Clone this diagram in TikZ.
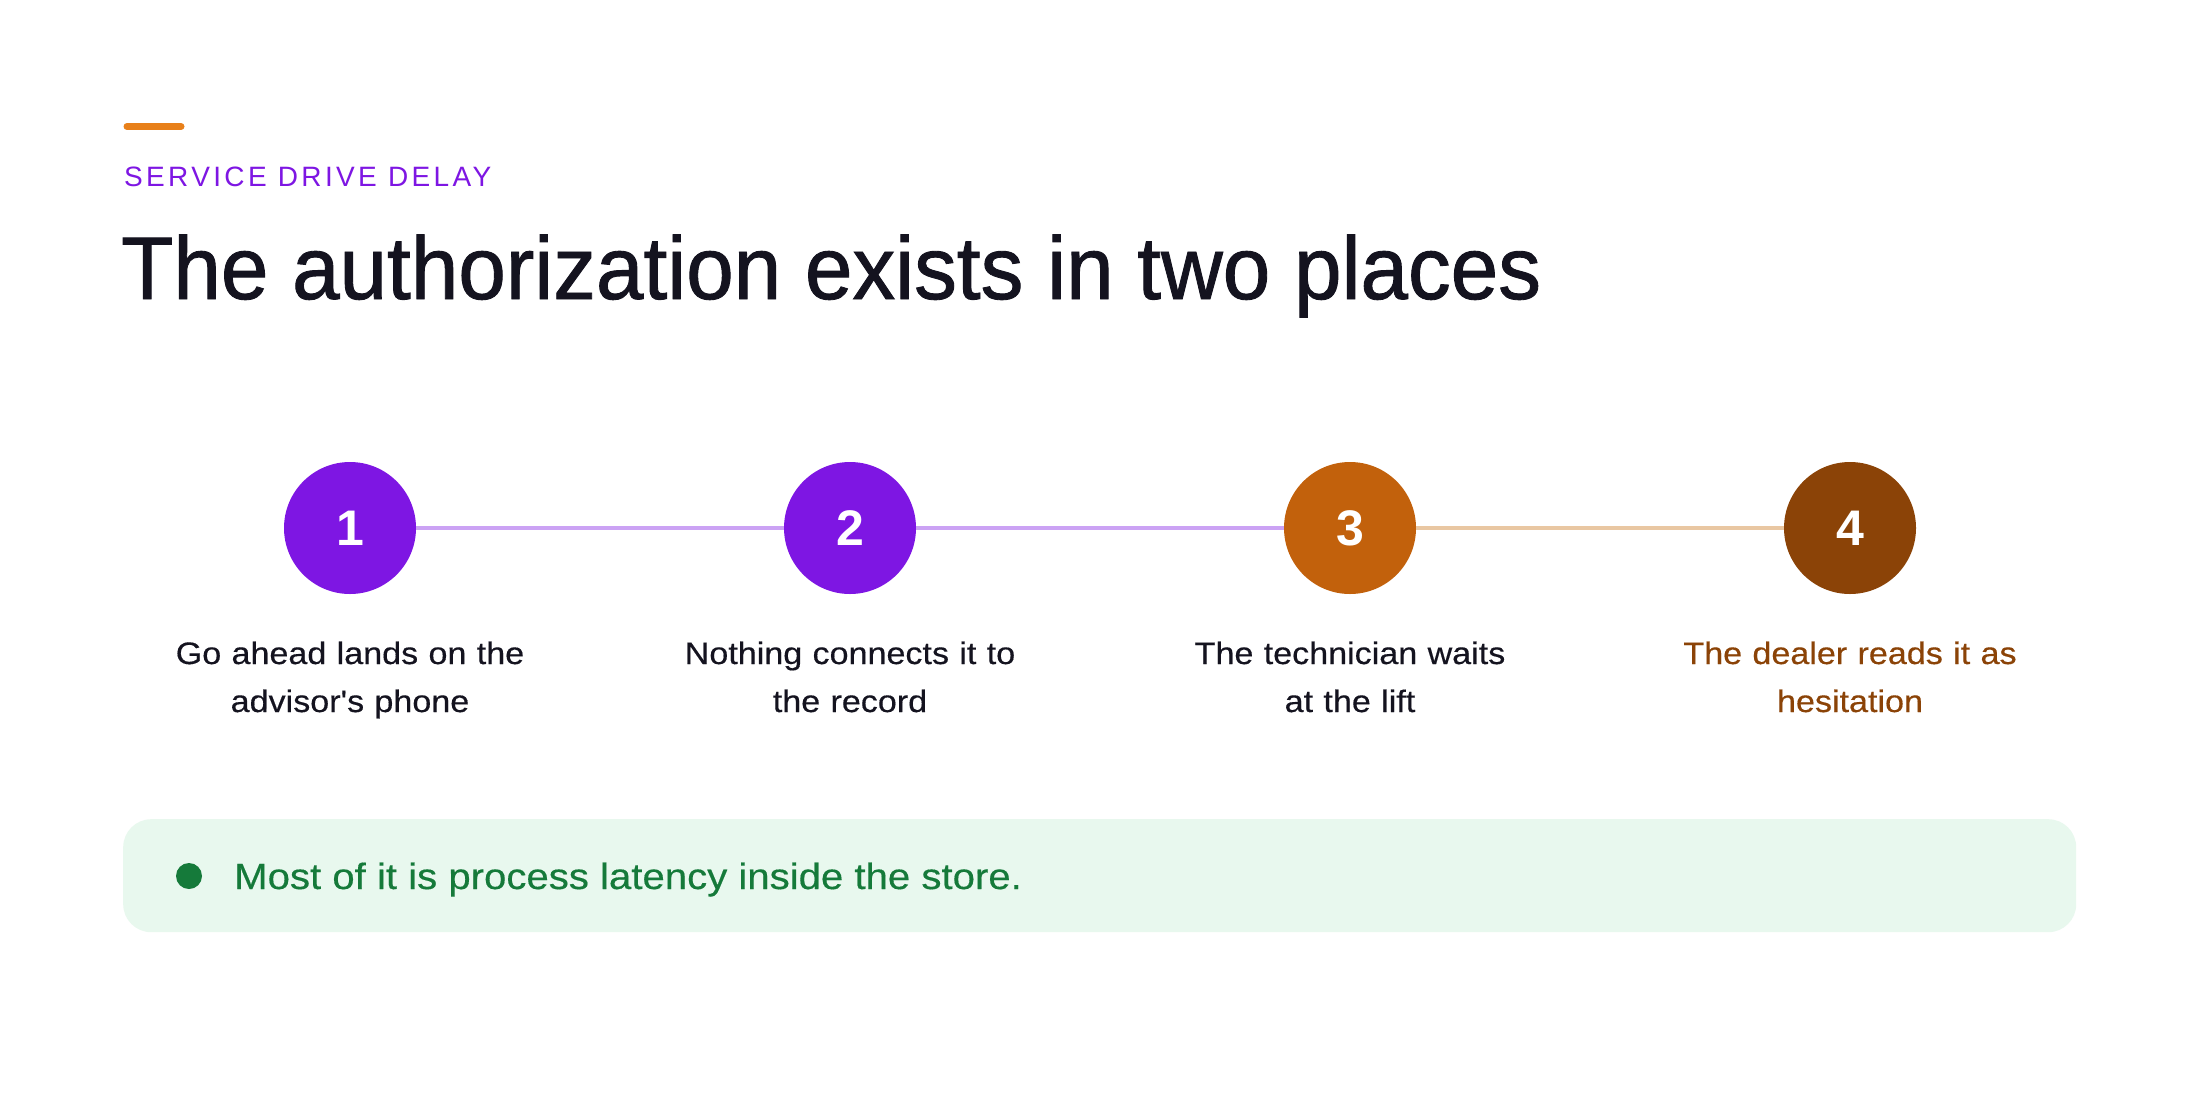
\documentclass[tikz,border=0pt]{standalone}
\usepackage{fontspec}
\setmainfont{Liberation Sans}
\newfontfamily\titlefont[FakeStretch=0.96,FakeBold=1.0]{Liberation Sans}
\newfontfamily\widefont[FakeStretch=1.1,FakeBold=0.4]{Liberation Sans}
\newfontfamily\kickerfont[LetterSpace=12]{Liberation Sans}
\definecolor{stepPurple}{HTML}{7E16E3}
\definecolor{linkPurple}{HTML}{CBA2F4}
\definecolor{stepOrange}{HTML}{C2610C}
\definecolor{linkOrange}{HTML}{E9C7A2}
\definecolor{stepBrown}{HTML}{8B4307}
\definecolor{inkDark}{HTML}{14131F}
\definecolor{noteGreen}{HTML}{157A3A}
\definecolor{noteBg}{HTML}{E8F8EE}
\definecolor{accentBar}{HTML}{E8801A}
\begin{document}
\begin{tikzpicture}[x=1pt,y=-1pt,
  stepnode/.style={circle, minimum size=132pt, inner sep=0pt, text=white,
    font=\fontsize{50}{50}\selectfont\bfseries},
  linkline/.style={line width=4.5pt},
  steplabel/.style={text width=440pt, align=center, anchor=base, inner sep=0pt,
    text=inkDark, font=\widefont\fontsize{31}{48}\selectfont}]
\path[use as bounding box, fill=white] (0,0) rectangle (2200,1100);
% accent bar and headings
\coordinate (barL) at (127,126.5);
\coordinate (barR) at (181,126.5);
\draw[accentBar, line width=7pt, line cap=round] (barL) -- (barR);
\node (kicker) [anchor=base west, inner sep=0pt, text=stepPurple,
  font=\kickerfont\fontsize{28}{30}\selectfont] at (124,186) {SERVICE DRIVE DELAY};
\node (title) [anchor=base west, inner sep=0pt, text=inkDark,
  font=\titlefont\fontsize{89}{100}\selectfont] at (121,299) {The authorization exists in two places};
% steps
\node (s1) [stepnode, fill=stepPurple] at (350,528) {1};
\node (s2) [stepnode, fill=stepPurple] at (850,528) {2};
\node (s3) [stepnode, fill=stepOrange] at (1350,528) {3};
\node (s4) [stepnode, fill=stepBrown] at (1850,528) {4};
\draw[linkline, linkPurple] (s1.east) -- (s2.west);
\draw[linkline, linkPurple] (s2.east) -- (s3.west);
\draw[linkline, linkOrange] (s3.east) -- (s4.west);
\node (l1) [steplabel] at (350,664) {Go ahead lands on the\\advisor's phone};
\node (l2) [steplabel] at (850,664) {Nothing connects it to\\the record};
\node (l3) [steplabel] at (1350,664) {The technician waits\\at the lift};
\node (l4) [steplabel, text=stepBrown] at (1850,664) {The dealer reads it as\\hesitation};
% note box
\node (box) [anchor=north west, fill=noteBg, rounded corners=28pt, inner sep=0pt,
  minimum width=1953pt, minimum height=113pt] at (123,819) {};
\node (dot) [circle, fill=noteGreen, minimum size=26pt, inner sep=0pt] at (189,876) {};
\node (note) [anchor=base west, inner sep=0pt, text=noteGreen,
  font=\widefont\fontsize{36.5}{40}\selectfont] at (234,889) {Most of it is process latency inside the store.};
\end{tikzpicture}
\end{document}
